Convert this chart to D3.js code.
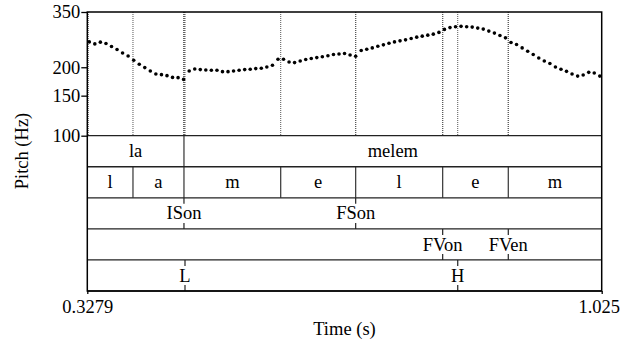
<!DOCTYPE html>
<html>
<head>
<meta charset="utf-8">
<script src="https://cdn.jsdelivr.net/npm/d3@7"></script>
<style>
  html, body { margin: 0; padding: 0; background: #fff; }
  svg { display: block; }
  text { font-family: "Liberation Serif", "Times New Roman", serif; fill: #000; }
</style>
</head>
<body>
<script>
// Pitch track samples (s, Hz)
const times = [
  0.3306, 0.3381, 0.3456, 0.3532, 0.3607, 0.3682, 0.3757, 0.3832, 0.3908, 0.3983,
  0.4058, 0.4133, 0.4208, 0.4284, 0.4359, 0.4434, 0.4509, 0.4584, 0.4660, 0.4735,
  0.4810, 0.4885, 0.4960, 0.5036, 0.5111, 0.5186, 0.5261, 0.5336, 0.5412, 0.5487,
  0.5562, 0.5637, 0.5712, 0.5788, 0.5863, 0.5938, 0.6013, 0.6088, 0.6164, 0.6239,
  0.6314, 0.6389, 0.6464, 0.6540, 0.6615, 0.6690, 0.6765, 0.6840, 0.6916, 0.6991,
  0.7066, 0.7141, 0.7216, 0.7292, 0.7367, 0.7442, 0.7517, 0.7592, 0.7668, 0.7743,
  0.7818, 0.7893, 0.7968, 0.8044, 0.8119, 0.8194, 0.8269, 0.8344, 0.8420, 0.8495,
  0.8570, 0.8645, 0.8720, 0.8796, 0.8871, 0.8946, 0.9021, 0.9096, 0.9172, 0.9247,
  0.9322, 0.9397, 0.9472, 0.9548, 0.9623, 0.9698, 0.9773, 0.9848, 0.9924, 0.9999,
  1.0074, 1.0149, 1.0224
];
const pitch = [
  258.6, 253.4, 257.9, 254.5, 246.8, 239.4, 231.2, 224.3, 214.7, 206.1,
  199.3, 192.5, 186.7, 185.6, 183.7, 180.5, 180.0, 176.9, 192.5, 196.5,
  195.3, 194.5, 193.9, 193.9, 191.3, 191.3, 192.5, 193.9, 195.3, 195.9,
  197.3, 197.9, 200.5, 204.0, 216.9, 216.9, 211.0, 209.7, 213.1, 216.2,
  218.4, 220.6, 222.4, 224.7, 227.5, 228.9, 229.8, 226.6, 223.6, 236.9,
  240.1, 243.3, 247.6, 250.9, 255.2, 258.6, 261.3, 264.0, 267.8, 271.3,
  274.1, 276.9, 279.7, 284.6, 293.5, 298.9, 301.3, 302.6, 301.3, 300.4,
  297.4, 294.4, 288.4, 282.6, 276.0, 269.4, 257.1, 251.9, 243.3, 235.3,
  227.5, 219.7, 213.1, 207.6, 200.5, 195.9, 191.9, 186.7, 182.9, 184.8,
  189.9, 188.6, 182.9
];

const tStart = 0.3279, tEnd = 1.025;
const yTicks = [100, 150, 200, 350];
const xTickLabels = ["0.3279", "1.025"];

// TextGrid tiers
const words = [
  { label: "la", start: 0.3279, end: 0.4589 },
  { label: "melem", start: 0.4589, end: 1.025 }
];
const phones = [
  { label: "l", start: 0.3279, end: 0.3898 },
  { label: "a", start: 0.3898, end: 0.4589 },
  { label: "m", start: 0.4589, end: 0.5900 },
  { label: "e", start: 0.5900, end: 0.6916 },
  { label: "l", start: 0.6916, end: 0.8095 },
  { label: "e", start: 0.8095, end: 0.8984 },
  { label: "m", start: 0.8984, end: 1.025 }
];
const syllPoints = [ { label: "ISon", time: 0.4589 }, { label: "FSon", time: 0.6916 } ];
const vowelPoints = [ { label: "FVon", time: 0.8095 }, { label: "FVen", time: 0.8984 } ];
const tonePoints = [ { label: "L", time: 0.4603 }, { label: "H", time: 0.8299 } ];

const tiers = [
  { kind: "interval", items: words },
  { kind: "interval", items: phones },
  { kind: "point", items: syllPoints },
  { kind: "point", items: vowelPoints },
  { kind: "point", items: tonePoints }
];

const W = 621, H = 343;
const mLeft = 87.3, mRight = 601.7, mTop = 12, pitchBottom = 135.7, mBottom = 291;
const rowH = (mBottom - pitchBottom) / tiers.length;
const FS = 18.5;
const FONT = "'Liberation Serif', 'Times New Roman', serif";

const svg = d3.select("body").append("svg")
  .attr("width", W).attr("height", H);
svg.append("rect").attr("width", W).attr("height", H).attr("fill", "#fff");

const x = d3.scaleLinear().domain([tStart, tEnd]).range([mLeft, mRight]);
const y = d3.scaleLog().domain([100, 350]).range([pitchBottom, mTop]);

// dotted boundary lines across pitch area
const boundaryTimes = [tStart + 0.0013];
tiers.forEach(t => {
  if (t.kind === "interval") t.items.forEach(d => { if (d.start > tStart) boundaryTimes.push(d.start); });
  else t.items.forEach(d => boundaryTimes.push(d.time));
});
svg.append("g")
  .selectAll("line")
  .data(boundaryTimes)
  .join("line")
  .attr("x1", d => x(d)).attr("x2", d => x(d))
  .attr("y1", mTop).attr("y2", pitchBottom)
  .attr("stroke", "#555")
  .attr("stroke-width", 1)
  .attr("stroke-dasharray", "1,1");

// pitch dots
svg.append("g")
  .selectAll("circle")
  .data(times.map((t, i) => ({ t, f: pitch[i] })))
  .join("circle")
  .attr("cx", d => x(d.t))
  .attr("cy", d => y(d.f))
  .attr("r", 1.8)
  .attr("fill", "#000");

// tiers
tiers.forEach((tier, k) => {
  const y0 = pitchBottom + k * rowH, y1 = y0 + rowH, yc = (y0 + y1) / 2;
  const g = svg.append("g");
  if (tier.kind === "interval") {
    g.selectAll("line")
      .data(tier.items.filter(d => d.start > tStart))
      .join("line")
      .attr("x1", d => x(d.start)).attr("x2", d => x(d.start))
      .attr("y1", y0).attr("y2", y1)
      .attr("stroke", "#333").attr("stroke-width", 1.2);
    g.selectAll("text")
      .data(tier.items)
      .join("text")
      .attr("x", d => x((d.start + d.end) / 2))
      .attr("y", yc)
      .attr("dy", "0.33em")
      .attr("text-anchor", "middle")
      .style("font-size", FS + "px")
      .text(d => d.label);
  } else {
    g.selectAll("line.t")
      .data(tier.items)
      .join("line").attr("class", "t")
      .attr("x1", d => x(d.time)).attr("x2", d => x(d.time))
      .attr("y1", y0).attr("y2", y0 + 6)
      .attr("stroke", "#222").attr("stroke-width", 1.2);
    g.selectAll("line.b")
      .data(tier.items)
      .join("line").attr("class", "b")
      .attr("x1", d => x(d.time)).attr("x2", d => x(d.time))
      .attr("y1", y1 - 6).attr("y2", y1)
      .attr("stroke", "#222").attr("stroke-width", 1.2);
    g.selectAll("text")
      .data(tier.items)
      .join("text")
      .attr("x", d => x(d.time))
      .attr("y", yc)
      .attr("dy", "0.33em")
      .attr("text-anchor", "middle")
      .style("font-size", FS + "px")
      .text(d => d.label);
  }
});

// tier separators
svg.append("g")
  .selectAll("line")
  .data(d3.range(tiers.length + 1))
  .join("line")
  .attr("x1", mLeft).attr("x2", mRight)
  .attr("y1", i => pitchBottom + i * rowH)
  .attr("y2", i => pitchBottom + i * rowH)
  .attr("stroke", "#222").attr("stroke-width", 1.3);

// frame
svg.append("rect")
  .attr("x", mLeft).attr("y", mTop)
  .attr("width", mRight - mLeft).attr("height", mBottom - mTop)
  .attr("fill", "none").attr("stroke", "#000").attr("stroke-width", 1.5);

// axes
const yAxis = svg.append("g")
  .attr("transform", `translate(${mLeft},0)`)
  .call(d3.axisLeft(y).tickValues(yTicks).tickFormat(d3.format("d")).tickSize(6).tickPadding(1));
yAxis.select(".domain").remove();
yAxis.selectAll("line").attr("stroke", "#000").attr("stroke-width", 1.3);
yAxis.selectAll("text").style("font-size", FS + "px")
  .style("font-family", FONT).attr("fill", "#000");

const xAxis = svg.append("g")
  .attr("transform", `translate(0,${mBottom})`)
  .call(d3.axisBottom(x).tickValues([tStart, tEnd])
    .tickFormat((d, i) => xTickLabels[i]).tickSize(3).tickPadding(6));
xAxis.select(".domain").remove();
xAxis.selectAll("line").attr("stroke", "#000").attr("stroke-width", 1.3);
xAxis.selectAll("text").style("font-size", FS + "px")
  .style("font-family", FONT).attr("fill", "#000");
// keep the right-hand label inside the page
xAxis.selectAll(".tick").filter(d => d === tEnd).select("text")
  .attr("text-anchor", "end")
  .attr("x", W - 1.5 - mRight);

svg.append("text")
  .attr("x", (mLeft + mRight) / 2)
  .attr("y", 335)
  .attr("text-anchor", "middle")
  .style("font-size", FS + "px")
  .text("Time (s)");

svg.append("text")
  .attr("transform", `translate(28,151) rotate(-90)`)
  .attr("text-anchor", "middle")
  .style("font-size", FS + "px")
  .text("Pitch (Hz)");
</script>
</body>
</html>
